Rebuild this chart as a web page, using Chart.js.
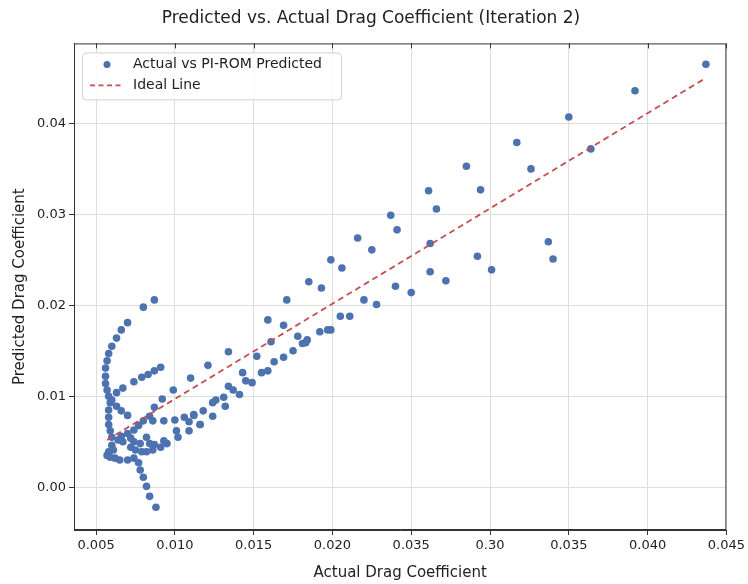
<!DOCTYPE html>
<html>
<head>
<meta charset="utf-8">
<script src="https://cdn.jsdelivr.net/npm/chart.js@4.4.1/dist/chart.umd.min.js"></script>
<style>
  html, body { margin: 0; padding: 0; background: #fff; }
  #wrap { width: 748px; height: 584px; }
</style>
</head>
<body>
<div id="wrap"><canvas id="chart" width="748" height="584"></canvas></div>
<script>
// values
const actualCd = [
  0.0437, 0.0392, 0.0350, 0.0317, 0.0364, 0.0285, 0.0326, 0.0261, 0.0294, 0.0266,
  0.0237, 0.0241, 0.0262, 0.0337, 0.0292, 0.0340, 0.0262, 0.0301, 0.0272, 0.0240, 0.0250,
  0.0185, 0.0193, 0.0199, 0.0206, 0.0216, 0.0225, 0.0220, 0.0228, 0.0205, 0.0211,
  0.0197, 0.0183, 0.0178, 0.0171, 0.0159, 0.0169,
  0.0161, 0.0134, 0.0121, 0.0152, 0.0143, 0.0155, 0.0159, 0.0163, 0.0169, 0.0175,
  0.0181, 0.0184, 0.0192, 0.0199, 0.0145, 0.0149, 0.0134, 0.0137, 0.0141, 0.0131,
  0.0126, 0.0124, 0.0132, 0.0118, 0.0124, 0.0112, 0.0116, 0.0110,
  0.0087, 0.0080, 0.0070, 0.0066, 0.0063, 0.0060, 0.0058, 0.0057, 0.0056, 0.0056,
  0.0056, 0.0057, 0.0058, 0.0059, 0.0058, 0.0058, 0.0058, 0.0059, 0.0060,
  0.0091, 0.0087, 0.0083, 0.0079, 0.0074, 0.0067, 0.0063, 0.0060, 0.0063, 0.0066, 0.0070,
  0.0099, 0.0092, 0.0087, 0.0084, 0.0080, 0.0077, 0.0074, 0.0070, 0.0066, 0.0064,
  0.0086, 0.0093, 0.0100, 0.0106, 0.0112, 0.0109, 0.0116, 0.0101, 0.0109, 0.0102,
  0.0095, 0.0093, 0.0091, 0.0087, 0.0086, 0.0082, 0.0079, 0.0075, 0.0072, 0.0078,
  0.0082, 0.0084, 0.0058, 0.0057, 0.0059, 0.0062, 0.0065, 0.0070, 0.0074, 0.0060,
  0.0061, 0.0067, 0.0072, 0.0074,
  0.0077, 0.0078, 0.0080, 0.0082, 0.0084, 0.0088
];
const predictedCd = [
  0.0465, 0.0436, 0.0407, 0.0379, 0.0372, 0.0353, 0.0350, 0.0326, 0.0327, 0.0306,
  0.0299, 0.0283, 0.0268, 0.0270, 0.0254, 0.0251, 0.0237, 0.0239, 0.0227, 0.0221, 0.0214,
  0.0226, 0.0219, 0.0250, 0.0241, 0.0274, 0.0261, 0.0206, 0.0201, 0.0188, 0.0188,
  0.0173, 0.0159, 0.0166, 0.0206, 0.0184, 0.0178,
  0.0160, 0.0149, 0.0134, 0.0144, 0.0126, 0.0126, 0.0128, 0.0138, 0.0143, 0.0150,
  0.0158, 0.0162, 0.0171, 0.0173, 0.0117, 0.0115, 0.0111, 0.0107, 0.0102, 0.0099,
  0.0096, 0.0093, 0.0089, 0.0084, 0.0078, 0.0079, 0.0069, 0.0120,
  0.0206, 0.0198, 0.0181, 0.0173, 0.0164, 0.0155, 0.0147, 0.0139, 0.0131, 0.0122,
  0.0114, 0.0107, 0.0100, 0.0093, 0.0085, 0.0077, 0.0069, 0.0062, 0.0055,
  0.0132, 0.0128, 0.0124, 0.0121, 0.0116, 0.0109, 0.0104, 0.0096, 0.0089, 0.0084, 0.0079,
  0.0107, 0.0097, 0.0088, 0.0078, 0.0073, 0.0068, 0.0063, 0.0059, 0.0056, 0.0052,
  0.0073, 0.0073, 0.0074, 0.0077, 0.0080, 0.0072, 0.0069, 0.0062, 0.0062, 0.0055,
  0.0048, 0.0051, 0.0044, 0.0047, 0.0041, 0.0039, 0.0039, 0.0041, 0.0044, 0.0048,
  0.0055, 0.0048, 0.0039, 0.0035, 0.0033, 0.0032, 0.0030, 0.0030, 0.0032, 0.0046,
  0.0041, 0.0050, 0.0054, 0.0050,
  0.0027, 0.0019, 0.0011, 0.0001, -0.0010, -0.0022
];
const idealX = [0.0057, 0.0436];
const idealY = [0.0052, 0.0449];

const xTickValues = [0.005, 0.010, 0.015, 0.020, 0.025, 0.030, 0.035, 0.040, 0.045];
const xTickLabels = ['0.005', '0.010', '0.015', '0.020', '0.035', '0.30', '0.035', '0.040', '0.045'];
const yTickValues = [0.00, 0.01, 0.02, 0.03, 0.04];

const FONT = "'DejaVu Sans', sans-serif";
const BLUE = '#4c72b0';
const RED = '#c44e52';
const AXIS = '#333333';
const GRID = '#dedede';

// frame, inward top ticks and the in-plot legend
const framePlugin = {
  id: 'frame',
  afterDraw(chart) {
    const { ctx, chartArea: a, scales } = chart;
    ctx.save();
    ctx.strokeStyle = AXIS;
    ctx.lineWidth = 1;
    ctx.strokeRect(a.left + 0.5, a.top + 0.5, a.right - a.left - 1, a.bottom - a.top - 1);
    xTickValues.forEach(v => {
      const px = Math.round(scales.x.getPixelForValue(v)) + 0.5;
      ctx.beginPath(); ctx.moveTo(px, a.top); ctx.lineTo(px, a.top + 5); ctx.stroke();
    });

    // legend
    const bx = a.left + 8, by = a.top + 9, bw = 259, bh = 47;
    ctx.fillStyle = 'rgba(255,255,255,0.85)';
    ctx.strokeStyle = '#d0d0d0';
    ctx.beginPath();
    ctx.roundRect(bx + 0.5, by + 0.5, bw, bh, 4);
    ctx.fill(); ctx.stroke();
    const ds = chart.data.datasets;
    ctx.fillStyle = BLUE;
    ctx.beginPath(); ctx.arc(bx + 25, by + 12, 3.5, 0, Math.PI * 2); ctx.fill();
    ctx.strokeStyle = RED; ctx.lineWidth = 1.6; ctx.setLineDash([5, 3.5]);
    ctx.beginPath(); ctx.moveTo(bx + 8, by + 33); ctx.lineTo(bx + 41, by + 33); ctx.stroke();
    ctx.setLineDash([]);
    ctx.fillStyle = '#222';
    ctx.font = '14px ' + FONT;
    ctx.textBaseline = 'middle';
    ctx.fillText(ds[1].label, bx + 51, by + 12);
    ctx.fillText(ds[0].label, bx + 51, by + 33);
    ctx.restore();
  }
};

new Chart(document.getElementById('chart'), {
  type: 'scatter',
  data: {
    datasets: [
      { label: 'Ideal Line', type: 'line', order: 0,
        data: idealX.map((x, i) => ({ x, y: idealY[i] })),
        borderColor: RED, borderWidth: 1.8, borderDash: [6, 4], pointRadius: 0, fill: false },
      { label: 'Actual vs PI-ROM Predicted', order: 1,
        data: actualCd.map((x, i) => ({ x, y: predictedCd[i] })),
        backgroundColor: BLUE, borderWidth: 0, pointRadius: 3.8 }
    ]
  },
  options: {
    responsive: false, animation: false,
    layout: { padding: { left: 11, right: 17, top: 0, bottom: 0 } },
    plugins: {
      legend: { display: false },
      tooltip: { enabled: false },
      title: { display: true, text: 'Predicted vs. Actual Drag Coefficient (Iteration 2)',
        color: '#222', font: { family: FONT, size: 17, weight: 'normal' }, padding: { top: 8, bottom: 15 } }
    },
    scales: {
      x: {
        type: 'linear', min: 0.0036, max: 0.045,
        afterBuildTicks: s => { s.ticks = xTickValues.map(v => ({ value: v })); },
        afterFit: s => { s.height = 54; },
        ticks: { color: '#222', font: { family: FONT, size: 13 }, padding: 3, maxRotation: 0,
          callback: (v, i) => xTickLabels[i] },
        grid: { color: GRID, tickColor: AXIS, tickLength: 5 },
        border: { color: AXIS },
        title: { display: true, text: 'Actual Drag Coefficient', color: '#222',
          font: { family: FONT, size: 15 }, padding: { top: 4, bottom: 2 } }
      },
      y: {
        type: 'linear', min: -0.0047, max: 0.0488,
        afterBuildTicks: s => { s.ticks = yTickValues.map(v => ({ value: v })); },
        afterFit: s => { s.width = 63; },
        ticks: { color: '#222', font: { family: FONT, size: 13 }, padding: 3,
          callback: v => v.toFixed(2) },
        grid: { color: GRID, tickColor: AXIS, tickLength: 5 },
        border: { color: AXIS },
        title: { display: true, text: 'Predicted Drag Coefficient', color: '#222',
          font: { family: FONT, size: 15 }, padding: { top: 0, bottom: 4 } }
      }
    }
  },
  plugins: [framePlugin]
});
</script>
</body>
</html>
